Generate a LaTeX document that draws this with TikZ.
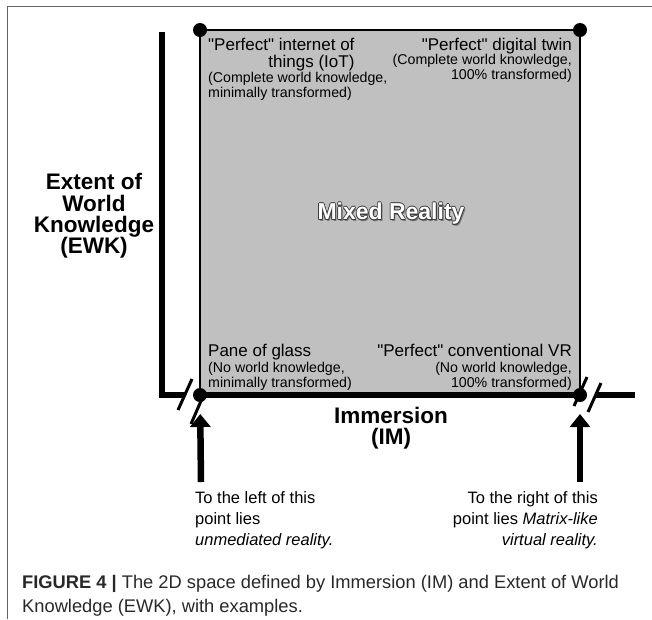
\documentclass[tikz,border=0pt]{standalone}
\usepackage{fontspec}
\setmainfont{Liberation Sans}[Ligatures=TeXOff]
\usetikzlibrary{arrows.meta}
\definecolor{sqgray}{RGB}{192,192,192}
\definecolor{framegray}{RGB}{100,100,100}
\definecolor{outlinegray}{RGB}{60,60,60}
\definecolor{shadowgray}{RGB}{120,120,120}
\definecolor{captext}{RGB}{40,40,40}
\newcommand\mroutline[1]{%
 \makebox[0pt][l]{\hspace*{1.4pt}\raisebox{-1.4pt}{\textcolor{shadowgray}{#1}}}%
 \makebox[0pt][l]{\hspace*{-0.75pt}\textcolor{outlinegray}{#1}}%
 \makebox[0pt][l]{\hspace*{0.75pt}\textcolor{outlinegray}{#1}}%
 \makebox[0pt][l]{\raisebox{0.75pt}{\textcolor{outlinegray}{#1}}}%
 \makebox[0pt][l]{\raisebox{-0.75pt}{\textcolor{outlinegray}{#1}}}%
 \makebox[0pt][l]{\hspace*{0.55pt}\raisebox{0.55pt}{\textcolor{outlinegray}{#1}}}%
 \makebox[0pt][l]{\hspace*{-0.55pt}\raisebox{0.55pt}{\textcolor{outlinegray}{#1}}}%
 \makebox[0pt][l]{\hspace*{0.55pt}\raisebox{-0.55pt}{\textcolor{outlinegray}{#1}}}%
 \makebox[0pt][l]{\hspace*{-0.55pt}\raisebox{-0.55pt}{\textcolor{outlinegray}{#1}}}%
 \textcolor{white}{#1}}
\begin{document}
\begin{tikzpicture}[x=1pt,y=-1pt,
  hl/.style={inner sep=0pt, font=\fontsize{17}{16.5}\selectfont},
  pl/.style={inner sep=0pt, font=\fontsize{14.2}{14.8}\selectfont},
  axlabel/.style={inner sep=0pt, align=center, font=\bfseries\fontsize{22.5}{21.3}\selectfont},
  note/.style={inner sep=0pt, font=\fontsize{16.5}{21}\selectfont},
  captionstyle/.style={inner sep=0pt, align=left, text=captext, font=\fontsize{18.3}{23.5}\selectfont},
  dot/.style={circle, fill=black, minimum size=14pt, inner sep=0pt, outer sep=0pt},
  axis/.style={line width=6.5pt},
  slash/.style={line width=3pt},
  uparrow/.style={line width=6.5pt, -{Triangle[width=20pt,length=13pt]}},
  framerule/.style={draw=framegray, line width=1.8pt}
]
\useasboundingbox (0,0) rectangle (652,619);

% frame rules
\coordinate (ftl) at (7.5,6.5);
\coordinate (ftr) at (652,6.5);
\coordinate (fbl) at (7.5,619);
\draw[framerule] (fbl) -- (ftl) -- (ftr);

% square
\node[draw, fill=sqgray, line width=2.5pt, minimum width=380pt, minimum height=365pt,
      inner sep=0pt, outer sep=0pt, anchor=north west] (sq) at (200,30) {};

% axes
\coordinate (ytop) at (162,32);
\coordinate (corner) at (162,395);
\coordinate (lb) at (185,395);
\coordinate (rb) at (595,395);
\coordinate (xend) at (635,395);
\draw[axis, line join=miter] (ytop) -- (corner) -- (lb);
\draw[axis] (sq.south west) -- (sq.south east);
\draw[axis] (rb) -- (xend);

% break marks
\coordinate (ls1a) at (178,410); \coordinate (ls1b) at (192,379);
\coordinate (ls2a) at (191,424); \coordinate (ls2b) at (204,394);
\coordinate (rs1a) at (574,406); \coordinate (rs1b) at (587,377);
\coordinate (rs2a) at (588,412); \coordinate (rs2b) at (601,383);
\draw[slash] (ls1a) -- (ls1b);
\draw[slash] (ls2a) -- (ls2b);
\draw[slash] (rs1a) -- (rs1b);
\draw[slash] (rs2a) -- (rs2b);

% corner dots
\node[dot] (tl) at (sq.north west) {};
\node[dot] (tr) at (sq.north east) {};
\node[dot] (bl) at (sq.south west) {};
\node[dot] (br) at (sq.south east) {};

% arrows
\coordinate (labot) at (201,482);
\coordinate (rabot) at (580,482);
\draw[uparrow, shorten >=12pt] (labot) -- (bl);
\draw[uparrow, shorten >=12pt] (rabot) -- (br);

% corner labels
\node[hl, anchor=north west, align=right] (tlh) at (208,38) {"Perfect" internet of\\things (IoT)};
\node[pl, anchor=north west, align=left] (tlp) at (208,72) {(Complete world knowledge,\\minimally transformed)};
\node[hl, anchor=north east, align=right] (trh) at (572,38) {"Perfect" digital twin};
\node[pl, anchor=north east, align=right] (trp) at (572,54) {(Complete world knowledge,\\100\% transformed)};
\node[hl, anchor=north west, align=left] (blh) at (208,344) {Pane of glass};
\node[pl, anchor=north west, align=left] (blp) at (208,362) {(No world knowledge,\\minimally transformed)};
\node[hl, anchor=north east, align=right] (brh) at (572,344) {"Perfect" conventional VR};
\node[pl, anchor=north east, align=right] (brp) at (572,362) {(No world knowledge,\\100\% transformed)};

% mixed reality
\node[inner sep=0pt, font=\bfseries\fontsize{23}{23}\selectfont] (mr) at (391,214) {\mroutline{Mixed Reality}};

% axis labels
\node[axlabel] (ewk) at (94,216) {Extent of\\World\\Knowledge\\(EWK)};
\node[axlabel] (im) at (391,428) {Immersion\\(IM)};

% notes
\node[note, anchor=north west, align=left] (ln) at (195,491) {To the left of this\\point lies\\\textit{unmediated reality.}};
\node[note, anchor=north east, align=right] (rn) at (598,491) {To the right of this\\point lies \textit{Matrix-like}\\\textit{virtual reality.}};

% caption
\node[captionstyle, anchor=base west] (caption) at (22,612) {\textbf{FIGURE 4 |} The 2D space defined by Immersion (IM) and Extent of World\\Knowledge (EWK), with examples.};
\end{tikzpicture}
\end{document}
